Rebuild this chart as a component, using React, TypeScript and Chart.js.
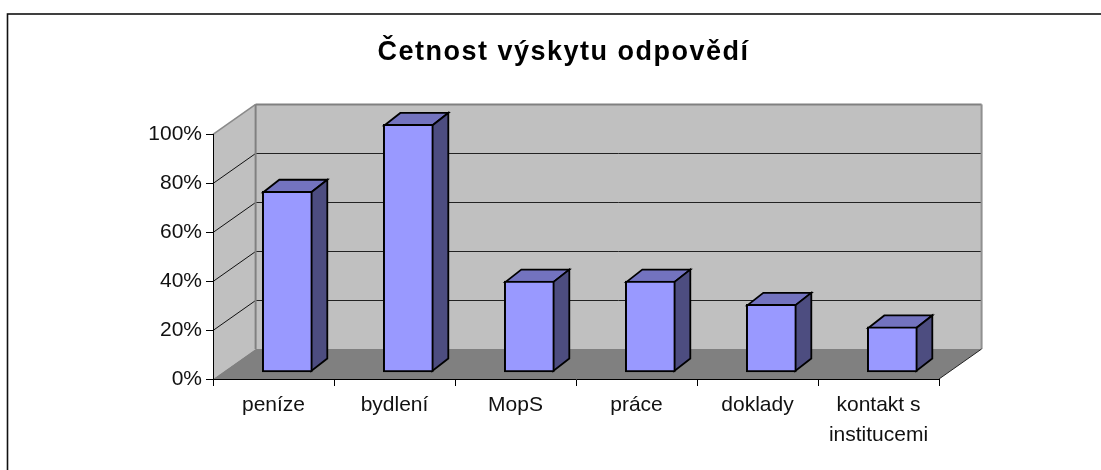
import React, { useEffect, useRef } from "react";
import { Chart, registerables } from "chart.js";

Chart.register(...registerables);

const categories = ["peníze", "bydlení", "MopS", "práce", "doklady", ["kontakt s", "institucemi"]];
const shares = [73, 100, 36.7, 36.7, 27.3, 18.2];
const titleText = "Četnost výskytu odpovědí";
const yTicks = [0, 20, 40, 60, 80, 100];

const FONT = "'Liberation Sans', Arial, sans-serif";
const WALL_DX = 42.6;
const WALL_DY = -30;
const BAR_SHIFT_X = 13.8;
const BAR_SHIFT_Y = -7;
const BAR_DEPTH_X = 16;
const BAR_DEPTH_Y = -12.5;

const poly = (ctx: CanvasRenderingContext2D, pts: number[][], fill?: string, stroke?: string, lw = 1) => {
  ctx.beginPath();
  pts.forEach((p, i) => (i ? ctx.lineTo(p[0], p[1]) : ctx.moveTo(p[0], p[1])));
  ctx.closePath();
  if (fill) {
    ctx.fillStyle = fill;
    ctx.fill();
  }
  if (stroke) {
    ctx.strokeStyle = stroke;
    ctx.lineWidth = lw;
    ctx.lineJoin = "miter";
    ctx.stroke();
  }
};

const seg = (ctx: CanvasRenderingContext2D, x1: number, y1: number, x2: number, y2: number, color: string, lw: number) => {
  ctx.beginPath();
  ctx.moveTo(x1, y1);
  ctx.lineTo(x2, y2);
  ctx.strokeStyle = color;
  ctx.lineWidth = lw;
  ctx.stroke();
};

const room3d = {
  id: "room3d",
  beforeDraw(chart: any) {
    const { ctx, scales } = chart;
    const x = scales.x;
    const y = scales.y;
    const l = x.left;
    const r = x.right;
    const b = y.getPixelForValue(0);
    const t = y.getPixelForValue(100);
    const titleBox = chart.titleBlock;
    if (titleBox && !titleBox.__spaced) {
      const drawTitle = titleBox.draw;
      titleBox.__spaced = true;
      titleBox.draw = function (...a: any[]) {
        ctx.letterSpacing = "1.5px";
        drawTitle.apply(titleBox, a);
        ctx.letterSpacing = "0px";
      };
    }
    ctx.save();
    // outer frame, cut by the picture edge
    ctx.strokeStyle = "#111";
    ctx.lineWidth = 1.6;
    ctx.strokeRect(7.5, 14, chart.width + 20, chart.height + 20);
    // walls
    poly(ctx, [[l, b], [l + WALL_DX, b + WALL_DY], [l + WALL_DX, t + WALL_DY], [l, t]], "#c0c0c0");
    poly(ctx, [[l + WALL_DX, b + WALL_DY], [r + WALL_DX, b + WALL_DY], [r + WALL_DX, t + WALL_DY], [l + WALL_DX, t + WALL_DY]], "#c0c0c0");
    // gridlines
    yTicks.slice(1, -1).forEach((v) => {
      const py = Math.round(y.getPixelForValue(v)) + 0.5;
      seg(ctx, l, py, l + WALL_DX, py + WALL_DY, "#111", 1);
      seg(ctx, l + WALL_DX, py + WALL_DY, r + WALL_DX, py + WALL_DY, "#222", 1);
    });
    // wall edges
    seg(ctx, l, t, l + WALL_DX, t + WALL_DY, "#8a8a8a", 1.6);
    seg(ctx, l + WALL_DX, t + WALL_DY, r + WALL_DX, t + WALL_DY, "#808080", 2);
    seg(ctx, l + WALL_DX, t + WALL_DY, l + WALL_DX, b + WALL_DY, "#808080", 2);
    seg(ctx, r + WALL_DX, t + WALL_DY, r + WALL_DX, b + WALL_DY, "#909090", 2);
    // floor
    poly(ctx, [[l, b], [r, b], [r + WALL_DX, b + WALL_DY], [l + WALL_DX, b + WALL_DY]], "#808080");
    seg(ctx, r, b, r + WALL_DX, b + WALL_DY, "#222", 1);
    ctx.restore();
  },
  beforeDatasetDraw(chart: any, args: any) {
    const { ctx } = chart;
    ctx.save();
    ctx.translate(BAR_SHIFT_X, BAR_SHIFT_Y);
    chart.getDatasetMeta(args.index).data.forEach((bar: any) => {
      const half = bar.width / 2 - 1;
      const xl = bar.x - half;
      const xr = bar.x + half;
      const yt = bar.y + 1;
      const yb = bar.base - 1;
      poly(ctx, [[xl, yt], [xl + BAR_DEPTH_X, yt + BAR_DEPTH_Y], [xr + BAR_DEPTH_X, yt + BAR_DEPTH_Y], [xr, yt]], "#7373bf", "#000", 1.8);
      poly(ctx, [[xr, yt], [xr + BAR_DEPTH_X, yt + BAR_DEPTH_Y], [xr + BAR_DEPTH_X, yb + BAR_DEPTH_Y], [xr, yb]], "#4d4d80", "#000", 1.8);
    });
  },
  afterDatasetDraw(chart: any) {
    chart.ctx.restore();
  },
};

export default function App() {
  const ref = useRef<HTMLCanvasElement | null>(null);
  useEffect(() => {
    document.body.style.margin = "0";
    const chart = new Chart(ref.current as HTMLCanvasElement, {
      type: "bar",
      data: {
        labels: categories as any,
        datasets: [
          {
            data: shares,
            yAxisID: "barDepth",
            clip: false,
            backgroundColor: "#9999ff",
            borderColor: "#000",
            borderWidth: 2,
            borderSkipped: false,
            barThickness: 50,
          },
        ],
      },
      plugins: [room3d],
      options: {
        responsive: false,
        animation: false,
        devicePixelRatio: 1,
        layout: { padding: { left: 26, right: 0, top: 0, bottom: 0 } },
        plugins: {
          legend: { display: false },
          tooltip: { enabled: false },
          title: {
            display: true,
            text: titleText,
            color: "#000",
            font: { family: FONT, size: 27, weight: "bold" },
            padding: { top: 36, bottom: 66 },
          },
        },
        scales: {
          x: {
            grid: { display: true, drawOnChartArea: false, drawTicks: true, tickLength: 7, color: "#000" },
            border: { display: true, color: "#000", width: 1 },
            ticks: { color: "#111", font: { family: FONT, size: 21, lineHeight: 1.43 }, padding: 4, maxRotation: 0, autoSkip: false },
            afterFit(s: any) {
              s.height = 91;
            },
          },
          y: {
            min: 0,
            max: 100,
            grid: { display: true, drawOnChartArea: false, drawTicks: true, tickLength: 7, color: "#000" },
            border: { display: true, color: "#000", width: 1 },
            afterBuildTicks(s: any) {
              s.ticks = yTicks.map((value) => ({ value }));
            },
            ticks: { color: "#111", font: { family: FONT, size: 21 }, padding: 4, callback: (v: any) => v + "%" },
            afterFit(s: any) {
              s.width = 187;
            },
          },
          barDepth: {
            axis: "y",
            position: "right",
            min: 0,
            max: 98.8,
            grid: { display: false },
            border: { display: false },
            ticks: { display: false },
            afterFit(s: any) {
              s.width = 162;
            },
          },
        },
      } as any,
    });
    return () => chart.destroy();
  }, []);
  return <canvas ref={ref} width={1101} height={470} style={{ display: "block" }} />;
}
